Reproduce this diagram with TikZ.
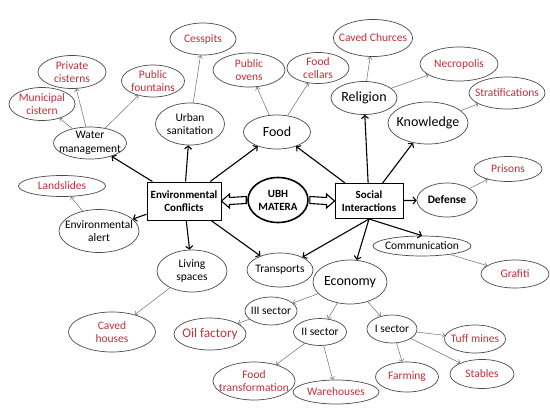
\documentclass[tikz,border=0pt]{standalone}
\usepackage{fontspec}
\setmainfont{Carlito}
\usepackage{tikz}
\usetikzlibrary{shapes.geometric, arrows.meta, calc}
\definecolor{leafred}{RGB}{192, 48, 58}
\definecolor{rimgray}{RGB}{75, 75, 75}
\definecolor{linkgray}{RGB}{110, 110, 110}

\begin{document}
\begin{tikzpicture}[
    x=1pt, y=-1pt,
    topic/.style={ellipse, draw=rimgray, line width=0.7pt, inner xsep=-6pt, inner ysep=-2pt, align=center, font=\fontsize{11.5}{13.5}\selectfont},
    big/.style={topic, font=\fontsize{14}{16}\selectfont},
    leaf/.style={topic, text=leafred},
    sz/.style 2 args={minimum width=#1pt, minimum height=#2pt},
    box/.style={rectangle, draw=black, line width=1pt, inner sep=2pt, align=center, font=\bfseries\fontsize{11}{13}\selectfont},
    hub/.style={ellipse, draw=black, line width=1.6pt, inner sep=0pt, align=center, font=\bfseries\fontsize{11}{13}\selectfont},
    line/.style={draw, line width=1.1pt, -{Straight Barb[length=3pt, width=7pt]}},
    thin/.style={draw=linkgray, line width=0.5pt, -{Straight Barb[length=2.5pt, width=5pt]}},
    hollow/.style={draw=black, line width=1.1pt, fill=white, line join=miter}
  ]
    \fill[white] (0,0) rectangle (550,413);

    % centre
    \node (ubh) [hub, sz={60}{45}] at (278,200) {UBH\\MATERA};
    \node (env) [box, sz={74}{38}] at (184,201) {Environmental\\Conflicts};
    \node (soc) [box, sz={68}{35}] at (369,201) {Social\\Interactions};

    % environmental side
    \node (water) [topic, sz={73}{32}] at (90,143) {Water\\management};
    \node (urban) [topic, sz={69}{42}] at (190,124) {Urban\\sanitation};
    \node (food) [big, sz={67}{34}] at (277,132) {Food};
    \node (alert) [topic, sz={80}{43}] at (99,231) {Environmental\\alert};
    \node (living) [topic, sz={70}{42}] at (192,271) {Living\\spaces};
    \node (transp) [topic, sz={66}{34}] at (280,270) {Transports};

    % social side
    \node (religion) [big, sz={66}{33}] at (364,98) {Religion};
    \node (knowledge) [big, sz={80}{42}] at (428,123) {Knowledge};
    \node (defense) [topic, sz={60}{34}, font=\bfseries\fontsize{11.4}{13}\selectfont] at (447,200) {Defense};
    \node (comm) [topic, sz={98}{20}] at (422,246) {Communication};
    \node (economy) [big, sz={74}{44}] at (350,282) {Economy};
    \node (sec3) [topic, sz={52}{28}] at (271,311) {III sector};
    \node (sec2) [topic, sz={53}{27}] at (320,332) {II sector};
    \node (sec1) [topic, sz={50}{28}] at (392,329) {I sector};

    % leaves
    \node (municipal) [leaf, sz={66}{33}] at (42,104) {Municipal\\cistern};
    \node (private) [leaf, sz={68}{33}] at (72,72) {Private\\cisterns};
    \node (fountains) [leaf, sz={63}{32}] at (153,81) {Public\\fountains};
    \node (cesspits) [leaf, sz={66}{32}] at (203,39) {Cesspits};
    \node (ovens) [leaf, sz={72}{34}] at (249,70) {Public\\ovens};
    \node (cellars) [leaf, sz={62}{31}] at (318,68) {Food\\cellars};
    \node (churces) [leaf, sz={77}{37}] at (373,38) {Caved Churces};
    \node (necro) [leaf, sz={78}{34}] at (459,64) {Necropolis};
    \node (strat) [leaf, sz={76}{32}] at (507,93) {Stratifications};
    \node (prisons) [leaf, sz={68}{25}] at (508,169) {Prisons};
    \node (landslides) [leaf, sz={87}{21}] at (62,186) {Landslides};
    \node (caved) [leaf, sz={87}{40}] at (112,332) {Caved\\houses};
    \node (grafiti) [leaf, sz={68}{28}] at (515,274) {Grafiti};
    \node (oil) [leaf, sz={72}{32}, font=\fontsize{13.2}{15}\selectfont] at (210,334) {Oil factory};
    \node (foodtr) [leaf, sz={82}{38}] at (254,381) {Food\\transformation};
    \node (wareh) [leaf, sz={86}{24}] at (336,392) {Warehouses};
    \node (tuff) [leaf, sz={61}{28}] at (475,339) {Tuff mines};
    \node (farming) [leaf, sz={63}{30}] at (407,377) {Farming};
    \node (stables) [leaf, sz={64}{29}] at (482,374) {Stables};

    % connectors
    \draw[hollow] (env.east) -- ++(8,-7) -- ++(0,3.5) -- ($(ubh.west)+(-1,-3.5)$)
      -- ++(0,7) -- ($(env.east)+(8,3.5)$) -- ++(0,3.5) -- cycle;
    \draw[hollow] (soc.west) -- ++(-8,-7) -- ++(0,3.5) -- ($(ubh.east)+(1,-3.5)$)
      -- ++(0,7) -- ($(soc.west)+(-8,3.5)$) -- ++(0,3.5) -- cycle;
    \foreach \t in {water, urban, food, alert, living, transp}
      \draw[line] (env) -- (\t);
    \foreach \t in {food, religion, knowledge, defense}
      \draw[line] (soc) -- (\t);
    \draw[line] (soc.south) -- (transp);
    \draw[line] (soc.south) -- (economy);
    \draw[line] (soc.south) -- (comm.north);
    \foreach \a/\b in {water/municipal, water/private, water/fountains, urban/cesspits,
        food/ovens, food/cellars, religion/churces, religion/necro, knowledge/strat,
        defense/prisons, alert/landslides, living/caved, comm/grafiti,
        economy/sec3, economy/sec2, economy/sec1, sec3/oil, sec2/foodtr, sec2/wareh,
        sec1/tuff, sec1/farming, sec1/stables}
      \draw[thin] (\a) -- (\b);
  \end{tikzpicture}
\end{document}
